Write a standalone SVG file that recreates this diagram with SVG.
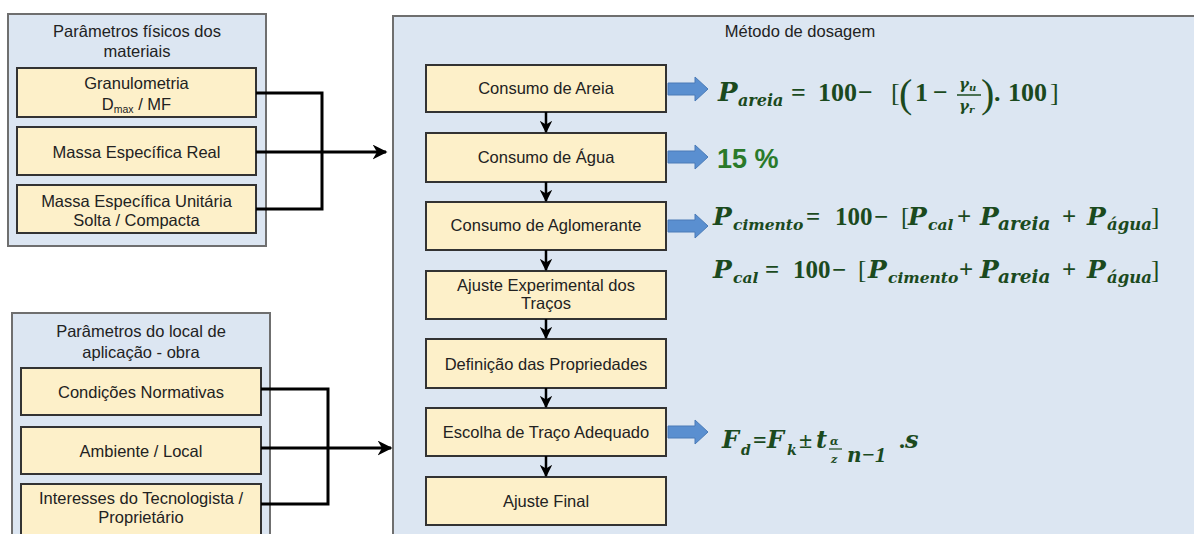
<svg xmlns="http://www.w3.org/2000/svg" width="1194" height="534" viewBox="0 0 1194 534">
<defs>
<style>
.panel{fill:#dce6f2;stroke:#6f6f6f;stroke-width:2}
.box{fill:#fdf0c9;stroke:#333;stroke-width:2}
.t{font-family:"Liberation Sans",Arial,sans-serif;font-size:16.5px;fill:#222;text-anchor:middle}
.sub{font-size:10.5px}
.con{fill:none;stroke:#000;stroke-width:3}
.down{fill:none;stroke:#000;stroke-width:2.5}
.blue{fill:#5a8fd0;stroke:#4a7bb7;stroke-width:1}
.fl{font-family:"DejaVu Serif",serif;font-weight:bold;font-style:italic;fill:#1b4a1e}
.fn{font-family:"Liberation Serif","Times New Roman",serif;font-weight:bold;fill:#1b4a1e}
.fp{font-family:"Liberation Serif","Times New Roman",serif;font-weight:normal;fill:#1b4a1e}
</style>
<marker id="ah" viewBox="0 0 10 10" refX="9" refY="5" markerWidth="5" markerHeight="5" orient="auto" markerUnits="strokeWidth">
<path d="M0,0 L10,5 L0,10 L3,5 Z" fill="#000"/>
</marker>
<marker id="ahs" viewBox="0 0 10 10" refX="9" refY="5" markerWidth="5" markerHeight="5" orient="auto" markerUnits="strokeWidth">
<path d="M0,0 L10,5 L0,10 L3,5 Z" fill="#000"/>
</marker>
</defs>
<rect width="1194" height="534" fill="#ffffff"/>

<!-- Top-left panel -->
<g id="panel-fisicos">
<rect class="panel" x="8" y="14" width="258" height="232"/>
<text class="t" x="137" y="37">Parâmetros físicos dos</text>
<text class="t" x="137" y="57">materiais</text>
</g>
<g id="granulometria">
<rect class="box" x="17" y="68" width="239" height="49"/>
<text class="t" x="136.5" y="89">Granulometria</text>
<text class="t" x="136.5" y="110">D<tspan class="sub" dy="3">max</tspan><tspan dy="-3"> / MF</tspan></text>
</g>
<g id="massa-real">
<rect class="box" x="17" y="127" width="239" height="48"/>
<text class="t" x="136.5" y="158">Massa Específica Real</text>
</g>
<g id="massa-unitaria">
<rect class="box" x="17" y="185" width="239" height="48"/>
<text class="t" x="136.5" y="207">Massa Específica Unitária</text>
<text class="t" x="136.5" y="226">Solta / Compacta</text>
</g>

<!-- Bottom-left panel -->
<g id="panel-local">
<rect class="panel" x="12" y="313" width="258" height="240"/>
<text class="t" x="141" y="337">Parâmetros do local de</text>
<text class="t" x="141" y="358">aplicação - obra</text>
</g>
<g id="condicoes">
<rect class="box" x="21" y="368" width="240" height="47"/>
<text class="t" x="141" y="398">Condições Normativas</text>
</g>
<g id="ambiente">
<rect class="box" x="21" y="427" width="240" height="47"/>
<text class="t" x="141" y="457">Ambiente / Local</text>
</g>
<g id="interesses">
<rect class="box" x="21" y="484" width="240" height="60"/>
<text class="t" x="141" y="504">Interesses do Tecnologista /</text>
<text class="t" x="141" y="523">Proprietário</text>
</g>

<!-- Main panel -->
<g id="panel-metodo">
<rect class="panel" x="393" y="16" width="810" height="530"/>
<text class="t" x="800" y="37">Método de dosagem</text>
</g>
<g id="consumo-areia">
<rect class="box" x="426" y="65" width="240" height="47"/>
<text class="t" x="546" y="94">Consumo de Areia</text>
</g>
<g id="consumo-agua">
<rect class="box" x="426" y="133" width="240" height="49"/>
<text class="t" x="546" y="163">Consumo de Água</text>
</g>
<g id="consumo-aglomerante">
<rect class="box" x="426" y="202" width="240" height="48"/>
<text class="t" x="546" y="231">Consumo de Aglomerante</text>
</g>
<g id="ajuste-experimental">
<rect class="box" x="426" y="271" width="240" height="48"/>
<text class="t" x="546" y="291">Ajuste Experimental dos</text>
<text class="t" x="546" y="309">Traços</text>
</g>
<g id="definicao">
<rect class="box" x="426" y="339" width="240" height="49"/>
<text class="t" x="546" y="370">Definição das Propriedades</text>
</g>
<g id="escolha">
<rect class="box" x="426" y="408" width="240" height="48"/>
<text class="t" x="546" y="438">Escolha de Traço Adequado</text>
</g>
<g id="ajuste-final">
<rect class="box" x="426" y="477" width="240" height="48"/>
<text class="t" x="546" y="507">Ajuste Final</text>
</g>

<!-- Connectors -->
<g id="connectors">
<path class="con" d="M256,93 H322 V209 H256"/>
<path class="con" d="M256,152 H386" marker-end="url(#ah)"/>
<path class="con" d="M261,389 H328 V504 H261"/>
<path class="con" d="M261,448 H391" marker-end="url(#ah)"/>
<path class="down" d="M546,112 V132" marker-end="url(#ahs)"/>
<path class="down" d="M546,182 V201" marker-end="url(#ahs)"/>
<path class="down" d="M546,250 V270" marker-end="url(#ahs)"/>
<path class="down" d="M546,319 V338" marker-end="url(#ahs)"/>
<path class="down" d="M546,388 V407" marker-end="url(#ahs)"/>
<path class="down" d="M546,456 V476" marker-end="url(#ahs)"/>
<path class="blue" d="M668,83 H695 V77 L708,89 L695,101 V95 H668 Z"/>
<path class="blue" d="M668,151 H695 V145 L708,157 L695,169 V163 H668 Z"/>
<path class="blue" d="M668,220 H695 V214 L708,226 L695,238 V232 H668 Z"/>
<path class="blue" d="M668,426 H695 V420 L708,432 L695,444 V438 H668 Z"/>
</g>

<!-- Formula 1 -->
<g id="formula-areia">
<text class="fl" x="718" y="101" font-size="26">P</text>
<text class="fl" x="738" y="106" font-size="16">areia</text>
<text class="fn" x="791" y="101" font-size="26">=</text>
<text class="fn" x="818" y="101" font-size="26">100</text>
<text class="fn" x="858" y="101" font-size="26">−</text>
<text class="fp" x="891" y="101" font-size="26">[</text>
<text class="fp" x="899" y="107" font-size="40">(</text>
<text class="fn" x="915" y="101" font-size="26">1</text>
<text class="fn" x="933" y="101" font-size="26">−</text>
<text class="fl" x="959" y="89" font-size="15">γ<tspan font-size="10" dy="2">u</tspan></text>
<line x1="957" y1="95" x2="981" y2="95" stroke="#1b4a1e" stroke-width="1.5"/>
<text class="fl" x="959" y="111" font-size="15">γ<tspan font-size="10" dy="2">r</tspan></text>
<text class="fp" x="981" y="107" font-size="40">)</text>
<text class="fn" x="994" y="101" font-size="26">.</text>
<text class="fn" x="1008" y="101" font-size="26">100</text>
<text class="fp" x="1050" y="101" font-size="26">]</text>
</g>

<!-- 15 % -->
<g id="formula-agua">
<text x="717" y="168" font-family="'Liberation Sans',Arial,sans-serif" font-weight="bold" font-size="27" fill="#2a7a2a">15 %</text>
</g>

<!-- Formula cimento -->
<g id="formula-cimento">
<text class="fl" x="713" y="225" font-size="25">P</text>
<text class="fl" x="733" y="230" font-size="15.5">cimento</text>
<text class="fn" x="806" y="225" font-size="25">=</text>
<text class="fn" x="835" y="225" font-size="25">100</text>
<text class="fn" x="874" y="225" font-size="25">−</text>
<text class="fp" x="901" y="225" font-size="25">[</text>
<text class="fl" x="908" y="225" font-size="25">P</text>
<text class="fl" x="928" y="230" font-size="15.5">cal</text>
<text class="fn" x="957" y="225" font-size="25">+</text>
<text class="fl" x="980" y="225" font-size="25">P</text>
<text class="fl" x="998" y="230" font-size="18.5">areia</text>
<text class="fn" x="1062" y="225" font-size="25">+</text>
<text class="fl" x="1087" y="225" font-size="25">P</text>
<text class="fl" x="1107" y="230" font-size="16.5">água</text>
<text class="fp" x="1151" y="225" font-size="25">]</text>
</g>

<!-- Formula cal -->
<g id="formula-cal">
<text class="fl" x="713" y="278" font-size="25">P</text>
<text class="fl" x="733" y="283" font-size="15.5">cal</text>
<text class="fn" x="765" y="278" font-size="25">=</text>
<text class="fn" x="793" y="278" font-size="25">100</text>
<text class="fn" x="832" y="278" font-size="25">−</text>
<text class="fp" x="858" y="278" font-size="25">[</text>
<text class="fl" x="868" y="278" font-size="25">P</text>
<text class="fl" x="888" y="283" font-size="15.5">cimento</text>
<text class="fn" x="959" y="278" font-size="25">+</text>
<text class="fl" x="980" y="278" font-size="25">P</text>
<text class="fl" x="998" y="283" font-size="18.5">areia</text>
<text class="fn" x="1062" y="278" font-size="25">+</text>
<text class="fl" x="1087" y="278" font-size="25">P</text>
<text class="fl" x="1107" y="283" font-size="16.5">água</text>
<text class="fp" x="1151" y="278" font-size="25">]</text>
</g>

<!-- Formula Fd -->
<g id="formula-fd">
<text class="fl" x="722" y="448" font-size="24">F</text>
<text class="fl" x="741" y="455" font-size="14">d</text>
<text class="fn" x="753" y="448" font-size="24">=</text>
<text class="fl" x="767" y="448" font-size="24">F</text>
<text class="fl" x="787" y="455" font-size="14">k</text>
<text class="fn" x="799" y="448" font-size="24">±</text>
<text class="fl" x="816" y="448" font-size="24">t</text>
<text class="fl" x="830" y="445" font-size="11">α</text>
<line x1="829" y1="449" x2="842" y2="449" stroke="#1b4a1e" stroke-width="1.2"/>
<text class="fl" x="831" y="463" font-size="11">z</text>
<text class="fl" x="847" y="462" font-size="20">n<tspan class="fn" font-size="22">−1</tspan></text>
<text class="fn" x="899" y="448" font-size="24">.</text>
<text class="fl" x="905" y="448" font-size="24">s</text>
</g>
</svg>
